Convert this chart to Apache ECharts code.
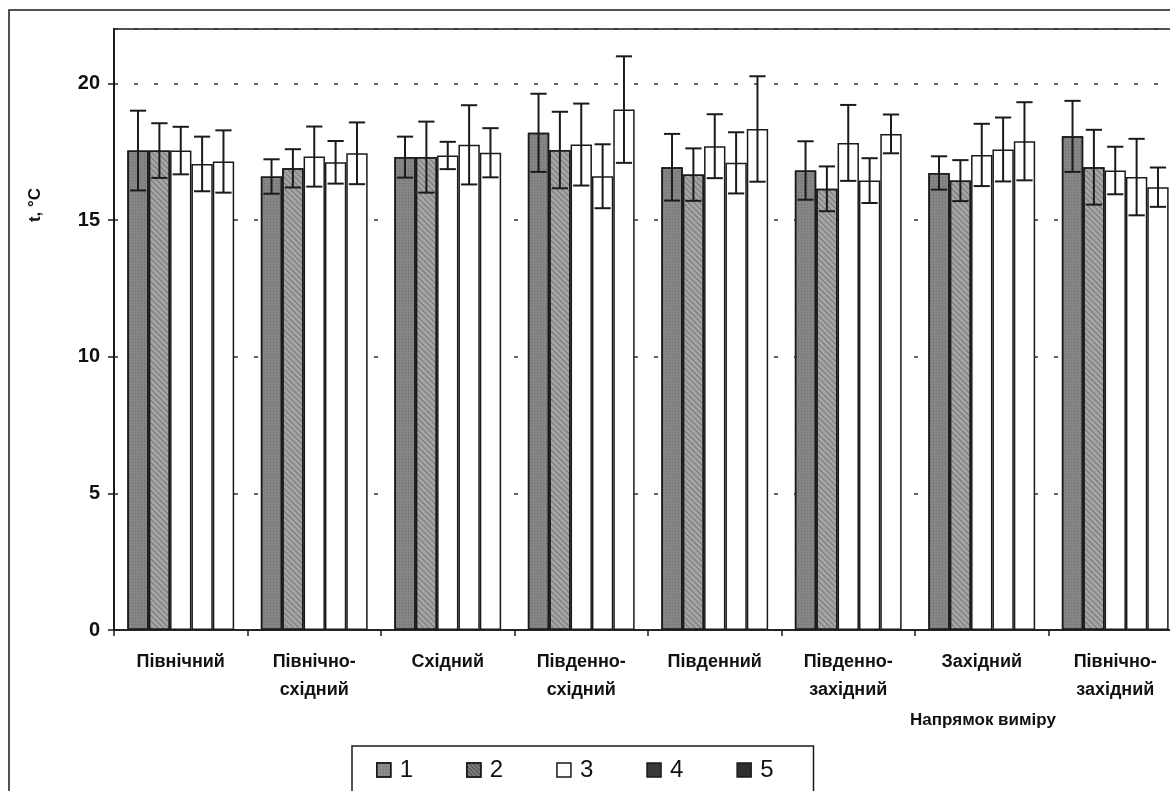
<!DOCTYPE html>
<html>
<head>
<meta charset="utf-8">
<script src="https://cdn.jsdelivr.net/npm/echarts@6/dist/echarts.min.js"></script>
<style>
html,body{margin:0;padding:0;background:#fff;}
#chart{width:1170px;height:791px;}
</style>
</head>
<body>
<div id="chart"></div>
<script>
// ---- data ----
const categories = ['Північний', 'Північно-\nсхідний', 'Східний', 'Південно-\nсхідний', 'Південний', 'Південно-\nзахідний', 'Західний', 'Північно-\nзахідний'];
const seriesNames = ['1', '2', '3', '4', '5'];
const s1 = [17.55, 16.60, 17.31, 18.20, 16.94, 16.82, 16.73, 18.07];
const e1 = [1.46, 0.63, 0.75, 1.43, 1.22, 1.07, 0.61, 1.30];
const s2 = [17.55, 16.90, 17.31, 17.57, 16.67, 16.15, 16.45, 16.94];
const e2 = [1.00, 0.70, 1.30, 1.40, 0.96, 0.82, 0.75, 1.37];
const s3 = [17.55, 17.33, 17.37, 17.77, 17.71, 17.83, 17.39, 16.82];
const e3 = [0.87, 1.10, 0.50, 1.50, 1.17, 1.39, 1.14, 0.87];
const s4 = [17.06, 17.12, 17.76, 16.61, 17.10, 16.45, 17.59, 16.58];
const e4 = [1.00, 0.78, 1.45, 1.17, 1.12, 0.82, 1.17, 1.40];
const s5 = [17.15, 17.45, 17.47, 19.05, 18.34, 18.16, 17.89, 16.21];
const e5 = [1.14, 1.13, 0.90, 1.95, 1.93, 0.71, 1.43, 0.72];
const yTicks = [0, 5, 10, 15, 20];
const xAxisTitle = 'Напрямок виміру';
const yAxisTitle = 't, °C';

const values = [s1, s2, s3, s4, s5];
const errors = [e1, e2, e3, e4, e5];
const nS = values.length;
const FONT = '"Liberation Sans", Arial, sans-serif';

const barStyles = [
  { color: '#858585', borderColor: '#1a1a1a', borderWidth: 1.5,
    decal: { symbol: 'rect', symbolSize: 1, dashArrayX: [[1, 2]], dashArrayY: [1, 2], color: 'rgba(70,70,70,0.35)' } },
  { color: '#a5a5a5', borderColor: '#1a1a1a', borderWidth: 1.5,
    decal: { symbol: 'rect', symbolSize: 1, dashArrayX: [[1, 0]], dashArrayY: [1, 3], rotation: Math.PI / 4, color: 'rgba(60,60,60,0.45)' } },
  { color: '#ffffff', borderColor: '#1a1a1a', borderWidth: 1.5 },
  { color: '#ffffff', borderColor: '#1a1a1a', borderWidth: 1.5 },
  { color: '#ffffff', borderColor: '#1a1a1a', borderWidth: 1.5 }
];
const legendStyles = [
  { color: '#8c8c8c', borderColor: '#1a1a1a', borderWidth: 1.5 },
  { color: '#5e5e5e', borderColor: '#1a1a1a', borderWidth: 1.5,
    decal: { symbol: 'rect', symbolSize: 1, dashArrayX: [[1, 0]], dashArrayY: [1, 2], rotation: Math.PI / 4, color: 'rgba(200,200,200,0.5)' } },
  { color: '#ffffff', borderColor: '#1a1a1a', borderWidth: 1.5 },
  { color: '#3a3a3a', borderColor: '#1a1a1a', borderWidth: 1.5 },
  { color: '#2e2e2e', borderColor: '#1a1a1a', borderWidth: 1.5 }
];

const barSeries = values.map((vals, si) => ({
  name: seriesNames[si],
  type: 'bar',
  data: vals,
  barGap: '0%',
  barCategoryGap: '20%',
  itemStyle: barStyles[si],
  emphasis: { disabled: true },
  animation: false,
  z: 2
}));

const errData = [];
values.forEach((vals, si) => {
  vals.forEach((v, ci) => errData.push([ci, si, v, errors[si][ci]]));
});

function renderErr(params, api) {
  const ci = api.value(0), si = api.value(1), v = api.value(2), e = api.value(3);
  const w = api.size([1, 0])[0];
  const bw = w * 0.8 / nS;
  const base = api.coord([ci, v]);
  const xc = base[0] - w * 0.4 + bw * (si + 0.5);
  const yt = api.coord([ci, v + e])[1];
  const yb = api.coord([ci, v - e])[1];
  const half = bw * 0.38;
  const st = { stroke: '#1a1a1a', lineWidth: 2 };
  return {
    type: 'group',
    children: [
      { type: 'line', shape: { x1: xc, y1: yt, x2: xc, y2: yb }, style: st },
      { type: 'line', shape: { x1: xc - half, y1: yt, x2: xc + half, y2: yt }, style: st },
      { type: 'line', shape: { x1: xc - half, y1: yb, x2: xc + half, y2: yb }, style: st }
    ]
  };
}

const chart = echarts.init(document.getElementById('chart'), null, { renderer: 'canvas' });
chart.setOption({
  backgroundColor: '#ffffff',
  animation: false,
  grid: { left: 114, top: 29, width: 1068, height: 601, outerBoundsMode: 'none', containLabel: false, show: true, borderColor: '#1a1a1a', borderWidth: 1.5, backgroundColor: 'transparent' },
  legend: {
    data: seriesNames.map((n, i) => ({ name: n, itemStyle: legendStyles[i] })),
    left: 352, top: 746,
    padding: [12, 40, 30, 24],
    itemWidth: 14, itemHeight: 14, itemGap: 53,
    icon: 'rect',
    borderColor: '#1a1a1a', borderWidth: 1.5,
    textStyle: { fontFamily: FONT, fontSize: 24, color: '#111', padding: [0, 0, 0, 4] },
    selectedMode: false
  },
  xAxis: {
    type: 'category',
    data: categories,
    boundaryGap: true,
    axisLine: { lineStyle: { color: '#1a1a1a', width: 1.5 } },
    axisTick: { show: true, length: 6, lineStyle: { color: '#1a1a1a', width: 1.5 } },
    axisLabel: { fontFamily: FONT, fontSize: 18, fontWeight: 'bold', color: '#111', margin: 18, lineHeight: 28, interval: 0 },
    splitLine: { show: false }
  },
  yAxis: {
    type: 'value',
    min: 0, max: 22, interval: 5,
    axisLine: { show: true, lineStyle: { color: '#1a1a1a', width: 2 } },
    axisTick: { show: true, length: 6, lineStyle: { color: '#1a1a1a', width: 1.5 } },
    axisLabel: {
      fontFamily: FONT, fontSize: 20, fontWeight: 'bold', color: '#111', margin: 14,
      showMaxLabel: false,
      formatter: v => (yTicks.indexOf(v) >= 0 ? String(v) : '')
    },
    splitLine: { show: true, lineStyle: { color: '#333', width: 1.5, type: [4, 16] } }
  },
  series: barSeries.concat([{
    type: 'custom',
    name: 'err',
    renderItem: renderErr,
    data: errData,
    encode: { x: 0, y: 2 },
    z: 5,
    silent: true,
    animation: false
  }]),
  graphic: [
    { type: 'rect', shape: { x: 9, y: 10, width: 1200, height: 820 }, style: { fill: 'none', stroke: '#1a1a1a', lineWidth: 1.5 }, z: 0, silent: true },
    { type: 'text', x: 35, y: 205, rotation: Math.PI / 2, style: { text: yAxisTitle, font: 'bold 17px ' + FONT, fill: '#111', textAlign: 'center', textVerticalAlign: 'middle' }, silent: true },
    { type: 'text', x: 983, y: 720, style: { text: xAxisTitle, font: 'bold 17px ' + FONT, fill: '#111', textAlign: 'center', textVerticalAlign: 'middle' }, silent: true }
  ]
});
</script>
</body>
</html>
